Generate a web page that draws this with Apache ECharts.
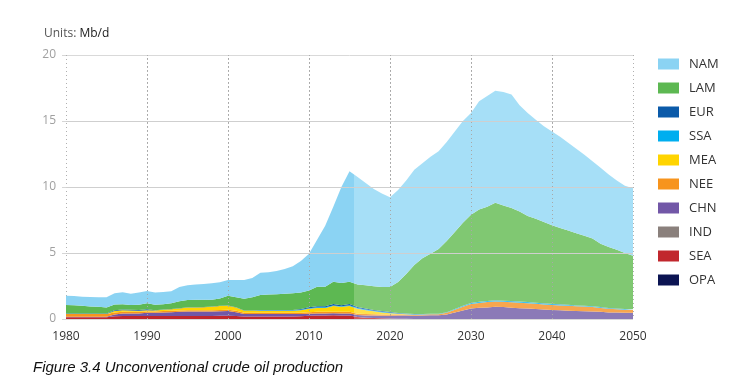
<!DOCTYPE html>
<html>
<head>
<meta charset="utf-8">
<script src="https://cdn.jsdelivr.net/npm/echarts@6/dist/echarts.min.js"></script>
<style>
html,body{margin:0;padding:0;background:#fff;}
#chart{width:749px;height:387px;}
</style>
</head>
<body>
<div id="chart"></div>
<script>
var years = ['1980','1981','1982','1983','1984','1985','1986','1987','1988','1989',
             '1990','1991','1992','1993','1994','1995','1996','1997','1998','1999',
             '2000','2001','2002','2003','2004','2005','2006','2007','2008','2009',
             '2010','2011','2012','2013','2014','2015','2016','2017','2018','2019',
             '2020','2021','2022','2023','2024','2025','2026','2027','2028','2029',
             '2030','2031','2032','2033','2034','2035','2036','2037','2038','2039',
             '2040','2041','2042','2043','2044','2045','2046','2047','2048','2049','2050'];

var decadeTicks = ['1980','1990','2000','2010','2020','2030','2040','2050'];
var gridValues = [5, 10, 15];

var NAM = [0.71,0.69,0.68,0.71,0.73,0.76,0.85,0.90,0.86,0.92,
           0.93,0.92,0.93,0.90,1.07,1.11,1.17,1.21,1.25,1.23,
           1.18,1.30,1.42,1.45,1.68,1.70,1.75,1.86,2.05,2.40,
           2.80,3.55,4.62,5.67,7.28,8.37,8.13,7.75,7.37,7.08,
           6.80,6.97,7.10,7.20,7.20,7.35,7.40,7.50,7.60,7.70,
           7.70,8.20,8.40,8.50,8.60,8.60,8.05,7.80,7.50,7.25,
           7.10,6.90,6.65,6.40,6.15,5.85,5.75,5.50,5.25,5.10,5.10];
var LAM = [0.64,0.63,0.58,0.53,0.50,0.46,0.44,0.40,0.36,0.40,
           0.46,0.41,0.40,0.44,0.54,0.55,0.56,0.54,0.51,0.54,
           0.75,0.76,0.89,1.00,1.13,1.16,1.19,1.23,1.26,1.24,
           1.26,1.48,1.48,1.70,1.67,1.69,1.71,1.76,1.79,1.82,
           1.89,2.35,2.99,3.72,4.22,4.55,4.90,5.39,5.84,6.30,
           6.68,6.99,7.13,7.38,7.21,7.04,6.82,6.51,6.36,6.16,
           5.95,5.79,5.62,5.47,5.29,5.13,4.80,4.62,4.46,4.24,4.06];
var EUR = [0.05,0.05,0.05,0.05,0.05,0.05,0.06,0.06,0.06,0.06,
           0.06,0.02,0.02,0.02,0.02,0.02,0.02,0.02,0.02,0.02,
           0.02,0.02,0.02,0.02,0.02,0.02,0.02,0.02,0.02,0.06,
           0.07,0.08,0.08,0.10,0.08,0.10,0.08,0.07,0.06,0.05,
           0.05,0.03,0.02,0.02,0.01,0.01,0.01,0.01,0.01,0.01,
           0.01,0.01,0.01,0.01,0.01,0.01,0.01,0.01,0.01,0.01,
           0.01,0.01,0.01,0.01,0.01,0.01,0.01,0.01,0.01,0.01,0.01];
var SSA = [0,0,0,0,0,0,0,0,0,0,
           0,0,0,0,0,0,0,0,0,0,
           0,0,0,0,0.04,0.04,0.04,0.04,0.04,0.04,
           0.05,0.05,0.05,0.05,0.05,0.05,0.05,0.05,0.05,0.05,
           0.05,0.03,0.03,0.03,0.03,0.03,0.03,0.03,0.05,0.06,
           0.08,0.08,0.08,0.08,0.08,0.08,0.08,0.08,0.08,0.08,
           0.08,0.07,0.07,0.06,0.06,0.05,0.05,0.05,0.05,0.05,0.05];
var MEA = [0,0,0,0,0,0,0.10,0.12,0.10,0.08,
           0.10,0.08,0.10,0.12,0.15,0.20,0.20,0.22,0.25,0.30,
           0.30,0.25,0.15,0.15,0.15,0.15,0.15,0.15,0.15,0.18,
           0.25,0.30,0.30,0.43,0.38,0.45,0.38,0.30,0.22,0.15,
           0.08,0.04,0.02,0,0,0,0,0,0,0,
           0,0,0,0,0,0,0,0,0,0,
           0,0,0,0,0,0,0,0,0,0,0];
var NEE = [0.20,0.20,0.20,0.20,0.20,0.20,0.15,0.12,0.12,0.12,
           0.10,0.10,0.10,0.10,0.10,0.10,0.10,0.10,0.10,0.10,
           0.10,0.10,0.10,0.10,0.10,0.10,0.10,0.10,0.10,0.10,
           0.12,0.12,0.12,0.12,0.12,0.12,0.10,0.10,0.10,0.10,
           0.10,0.08,0.08,0.08,0.08,0.08,0.08,0.12,0.20,0.28,
           0.33,0.37,0.40,0.40,0.40,0.42,0.42,0.40,0.40,0.38,
           0.38,0.37,0.37,0.36,0.36,0.35,0.30,0.27,0.24,0.22,0.20];
var CHN = [0.04,0.04,0.04,0.04,0.04,0.04,0.15,0.20,0.20,0.20,
           0.25,0.25,0.28,0.30,0.32,0.35,0.35,0.35,0.35,0.35,
           0.35,0.30,0.20,0.20,0.20,0.20,0.20,0.20,0.20,0.18,
           0.15,0.15,0.15,0.15,0.15,0.15,0.15,0.17,0.19,0.20,
           0.22,0.25,0.25,0.25,0.26,0.28,0.28,0.35,0.50,0.65,
           0.80,0.85,0.88,0.93,0.90,0.85,0.82,0.80,0.75,0.72,
           0.68,0.66,0.63,0.60,0.58,0.56,0.54,0.50,0.49,0.48,0.48];
var IND = [0,0,0,0,0,0,0,0,0,0,
           0,0,0,0,0,0,0,0,0,0,
           0,0,0,0,0,0,0,0,0,0,
           0,0,0,0,0,0,0,0,0,0,
           0,0,0,0,0,0,0,0,0,0,
           0,0,0,0,0,0,0,0,0,0,
           0,0,0,0,0,0,0,0,0,0,0];
var SEA = [0.13,0.13,0.13,0.13,0.13,0.13,0.20,0.22,0.22,0.22,
           0.22,0.22,0.22,0.22,0.22,0.22,0.22,0.22,0.22,0.24,
           0.25,0.22,0.18,0.18,0.18,0.18,0.18,0.18,0.18,0.20,
           0.25,0.27,0.27,0.28,0.27,0.27,0.15,0.10,0.07,0.05,
           0.03,0.02,0.01,0,0,0,0,0,0,0,
           0,0,0,0,0,0,0,0,0,0,
           0,0,0,0,0,0,0,0,0,0,0];
var OPA = [0,0,0,0,0,0,0,0,0,0,
           0,0,0,0,0,0,0,0,0,0,
           0,0,0,0,0,0,0,0,0,0,
           0,0,0,0,0,0,0,0,0,0,
           0,0,0,0,0,0,0,0,0,0,
           0,0,0,0,0,0,0,0,0,0,
           0,0,0,0,0,0,0,0,0,0,0];

var lastHistoricIndex = years.indexOf('2015');
var legendOrder = ['NAM','LAM','EUR','SSA','MEA','NEE','CHN','IND','SEA','OPA'];
var stackOrder = ['OPA','SEA','IND','CHN','NEE','MEA','SSA','EUR','LAM','NAM'];
var regionValues = {NAM:NAM, LAM:LAM, EUR:EUR, SSA:SSA, MEA:MEA, NEE:NEE, CHN:CHN, IND:IND, SEA:SEA, OPA:OPA};
var histColor = {NAM:'#8bd3f3', LAM:'#5db852', EUR:'#0b5aa9', SSA:'#00aeef', MEA:'#ffd400',
                 NEE:'#f7941d', CHN:'#7257a7', IND:'#8a807c', SEA:'#c1272d', OPA:'#0b1452'};
var projColor = {NAM:'#a6dff7', LAM:'#80c872', EUR:'#3b7bbd', SSA:'#3fc2f2', MEA:'#ffe04a',
                 NEE:'#f7a64e', CHN:'#8b7ab7', IND:'#a39b97', SEA:'#d35a5f', OPA:'#3a4377'};

var FONT = 'Open Sans';
var splitPos = (lastHistoricIndex + 0.5) / (years.length - 1);

var overlayLines = gridValues.map(function (v) {
  return {yAxis: v, lineStyle: {type: 'solid', color: '#cfcfcf', width: 1}};
}).concat(decadeTicks.slice(1, -1).map(function (c) {
  return {xAxis: c, lineStyle: {type: [1, 3], color: '#a8a8a8', width: 1}};
}));

var seriesList = stackOrder.map(function (name) {
  var s = {
    name: name,
    type: 'line',
    stack: 'total',
    symbol: 'none',
    lineStyle: {width: 0, opacity: 0},
    itemStyle: {color: histColor[name]},
    areaStyle: {
      opacity: 1,
      color: new echarts.graphic.LinearGradient(0, 0, 1, 0, [
        {offset: 0, color: histColor[name]},
        {offset: splitPos, color: histColor[name]},
        {offset: splitPos, color: projColor[name]},
        {offset: 1, color: projColor[name]}
      ])
    },
    data: regionValues[name]
  };
  if (name === 'NAM') {
    s.markLine = {
      silent: true,
      symbol: ['none', 'none'],
      label: {show: false},
      emphasis: {disabled: true},
      data: overlayLines
    };
  }
  return s;
});

var chart = echarts.init(document.getElementById('chart'));
chart.setOption({
  animation: false,
  backgroundColor: '#ffffff',
  title: {
    text: '{a|Units: }{b|Mb/d}',
    left: 39,
    top: 23,
    textStyle: {
      fontWeight: 'normal',
      rich: {
        a: {fontFamily: FONT, fontSize: 12, color: '#555555', fontWeight: 'normal'},
        b: {fontFamily: FONT, fontSize: 12, color: '#1a1a1a', fontWeight: 'normal'}
      }
    }
  },
  graphic: [{
    type: 'text',
    left: 33,
    top: 360,
    style: {
      text: 'Figure 3.4 Unconventional crude oil production',
      font: 'italic 15px "Liberation Sans", Arial, sans-serif',
      fill: '#111111'
    }
  }],
  legend: {
    orient: 'vertical',
    left: 653,
    top: 52,
    icon: 'rect',
    itemWidth: 21,
    itemHeight: 11,
    itemGap: 10,
    selectedMode: false,
    textStyle: {fontFamily: FONT, fontSize: 13, color: '#333333', lineHeight: 14, padding: [0,0,0,5]},
    data: legendOrder
  },
  grid: {left: 66, right: 116, top: 55, bottom: 68},
  xAxis: {
    type: 'category',
    data: years,
    boundaryGap: false,
    axisLine: {show: false},
    axisTick: {show: false},
    axisLabel: {fontFamily: FONT, fontSize: 12, color: '#333333', margin: 12, interval: 9},
    splitLine: {show: true, interval: 9, lineStyle: {type: [1, 3], color: '#b0b0b0', width: 1}}
  },
  yAxis: {
    type: 'value',
    min: 0,
    max: 20,
    interval: 5,
    axisLine: {show: false},
    axisTick: {show: true, length: 4, lineStyle: {color: '#d6d6d6'}},
    axisLabel: {fontFamily: FONT, fontSize: 12, color: '#a0a0a0', margin: 10},
    splitLine: {show: true, lineStyle: {color: '#d9d9d9', width: 1}}
  },
  series: seriesList
});
</script>
</body>
</html>
